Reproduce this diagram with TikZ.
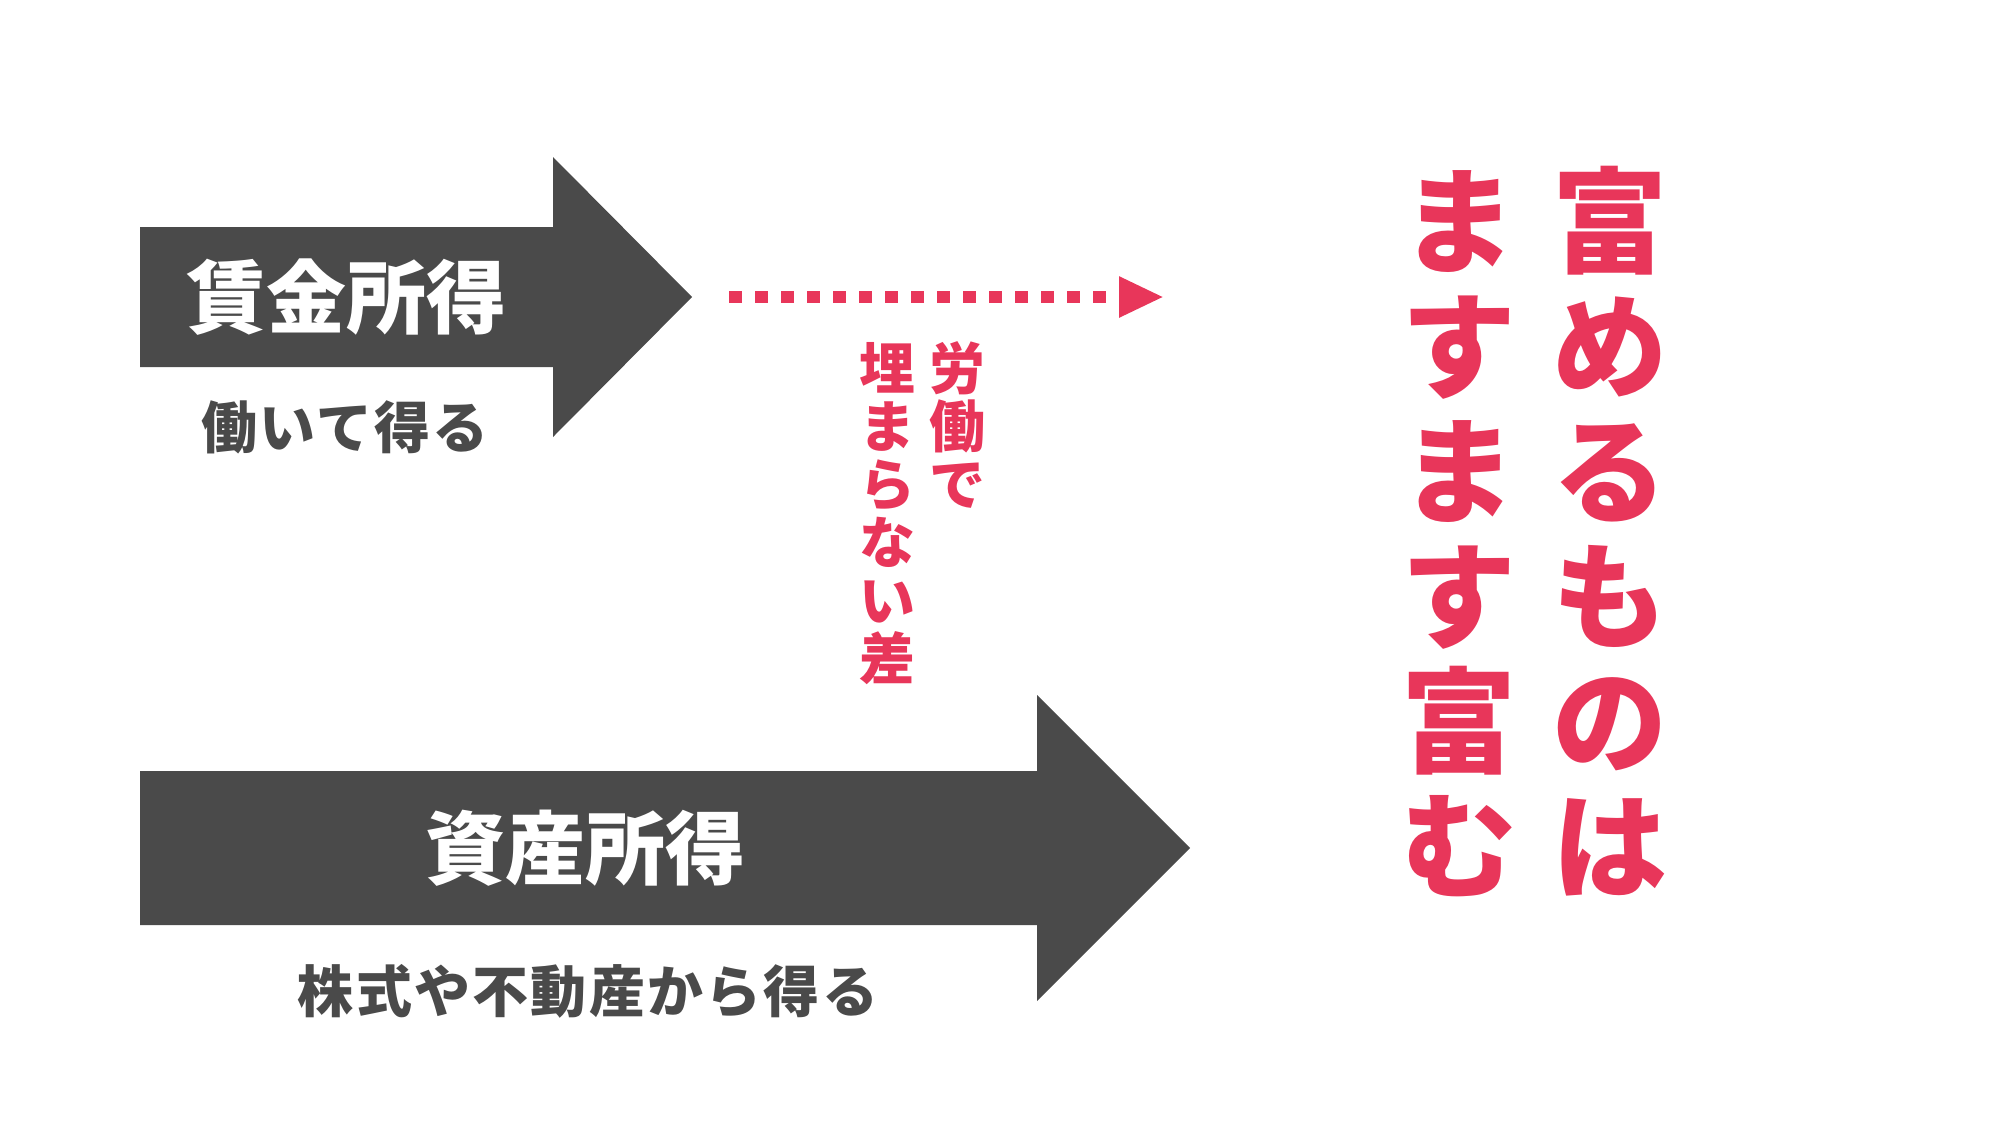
\documentclass[tikz,border=0pt]{standalone}
\usepackage{fontspec}
\newfontfamily\jpfont{Noto Sans CJK JP}
\usetikzlibrary{arrows.meta,positioning}
\definecolor{ink}{HTML}{4A4A4A}
\definecolor{rose}{HTML}{E8365A}

\begin{document}
\begin{tikzpicture}[x=1pt,y=-1pt,
      band/.style={fill=ink},
      title/.style={text=white,inner sep=0pt,text height=70.4pt,text depth=9.6pt,
        font=\jpfont\bfseries\fontsize{80}{96}\selectfont},
      note/.style={text=ink,inner sep=0pt,text height=49.3pt,text depth=6.7pt,
        font=\jpfont\bfseries\fontsize{56}{67}\selectfont\addfontfeature{LetterSpace=4}},
      gaptext/.style={text=rose,inner sep=0pt,text height=49.3pt,text depth=6.7pt,
        font=\jpfont\bfseries\fontsize{56}{67}\selectfont},
      big/.style={text=rose,inner sep=0pt,text height=101.2pt,text depth=13.8pt,
        font=\jpfont\bfseries\fontsize{115}{138}\selectfont},
      gapline/.style={rose,line width=12pt,dash pattern=on 13pt off 13pt,
        -{Triangle[length=45pt,width=38pt]}}]

    \useasboundingbox (0,0) rectangle (1999,1125);

    % wage income
    \fill[band] (140,227) -- (553,227) -- (553,157) -- (692,297) -- (553,437)
      -- (553,367) -- (140,367) -- cycle;
    \node[title] (wage) at (346,297) {賃金所得};
    \node[note] (wagenote) at (345,427) {働いて得る};

    % asset income
    \fill[band] (140,771) -- (1037,771) -- (1037,695) -- (1190,848) -- (1037,1001)
      -- (1037,925) -- (140,925) -- cycle;
    \node[title] (asset) at (585,848) {資産所得};
    \node[note] (assetnote) at (588,991) {株式や不動産から得る};

    % the gap
    \coordinate (gapL) at (729,297);
    \coordinate (gapR) at (1164,297);
    \draw[gapline] (gapL) -- (gapR);

    \foreach \ch [count=\i from 0] in {労,働,で}
      \node[gaptext] (labor\i) at (957,368+58*\i) {\ch};
    \foreach \ch [count=\i from 0] in {埋,ま,ら,な,い,差}
      \node[gaptext] (diff\i) at (887,368+58*\i) {\ch};

    % headline
    \foreach \ch [count=\i from 0] in {富,め,る,も,の,は}
      \node[big] (rich\i) at (1610,221+125*\i) {\ch};
    \foreach \ch [count=\i from 0] in {ま,す,ま,す,富,む}
      \node[big] (more\i) at (1459,221+125*\i) {\ch};
  \end{tikzpicture}
\end{document}
